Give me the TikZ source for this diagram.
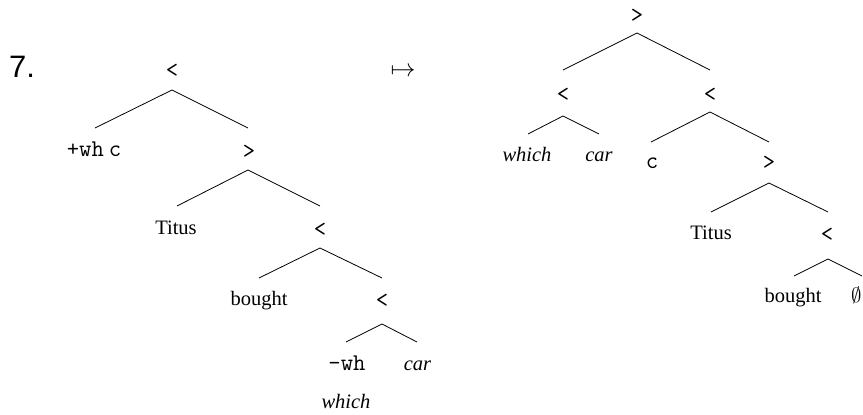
\documentclass[tikz,border=0pt]{standalone}
\usepackage{fontspec}
\setmainfont{Liberation Serif}
\newfontfamily\numfont{Liberation Sans}
\begin{document}
\begin{tikzpicture}[x=1pt,y=-1pt,
  lbl/.style={inner sep=0pt,anchor=base,font=\fontsize{20.5}{24}\selectfont},
  op/.style={inner sep=0pt,anchor=base,font=\fontsize{24}{28}\selectfont\ttfamily},
  br/.style={line width=0.8pt,black}]
\useasboundingbox (0,0) rectangle (863,415);
% example number and arrow
\node[inner sep=0pt,anchor=base west,font=\fontsize{31}{34}\selectfont\numfont] (num) at (9,77) {7.};
\node[inner sep=0pt,anchor=base,font=\fontsize{31}{34}\selectfont] (maps) at (403,76.5) {$\mapsto$};
% ---------------- left tree ----------------
\node[op] (l0) at (172,77) {<};
\node[op] (l1a) at (94,156.5) {+wh\hspace{5pt}c};
\node[op] (l1b) at (249,158) {>};
\node[lbl] (l2a) at (176,234) {Titus};
\node[op] (l2b) at (320,236) {<};
\node[lbl] (l3a) at (259,305) {bought};
\node[op] (l3b) at (382,307) {<};
\node[op] (l4a) at (347,370.5) {-wh};
\node[lbl] (l4b) at (417.5,370.5) {\itshape car};
\node[lbl] (l5) at (346,408) {\itshape which};
\coordinate (p0) at (172,90);  \coordinate (p0a) at (95,128);  \coordinate (p0b) at (248,128);
\coordinate (p1) at (248,170); \coordinate (p1a) at (177,206); \coordinate (p1b) at (320,206);
\coordinate (p2) at (320,248); \coordinate (p2a) at (259,278); \coordinate (p2b) at (382,278);
\coordinate (p3) at (382,324); \coordinate (p3a) at (346,342); \coordinate (p3b) at (417,342);
\draw[br] (p0a) -- (p0) -- (p0b);
\draw[br] (p1a) -- (p1) -- (p1b);
\draw[br] (p2a) -- (p2) -- (p2b);
\draw[br] (p3a) -- (p3) -- (p3b);
% ---------------- right tree ----------------
\node[op] (r0) at (637,22) {>};
\node[op] (r1a) at (563,101) {<};
\node[op] (r1b) at (710,101) {<};
\node[lbl] (r2a) at (527,161) {\itshape which};
\node[lbl] (r2b) at (599,161) {\itshape car};
\node[op] (r2c) at (652,168.5) {c};
\node[op] (r2d) at (769,169) {>};
\node[lbl] (r3a) at (711,239) {Titus};
\node[op] (r3b) at (827,241) {<};
\node[lbl] (r4a) at (793,302) {bought};
\node[inner sep=0pt,anchor=base west,font=\fontsize{20.5}{24}\selectfont] (r4b) at (851,302) {$\emptyset$};
\coordinate (q0) at (637,33);  \coordinate (q0a) at (563,70);  \coordinate (q0b) at (710,70);
\coordinate (q1) at (563,116); \coordinate (q1a) at (528,134); \coordinate (q1b) at (599,134);
\coordinate (q2) at (710,112); \coordinate (q2a) at (651,142); \coordinate (q2b) at (769,142);
\coordinate (q3) at (769,183); \coordinate (q3a) at (711,212); \coordinate (q3b) at (828,212);
\coordinate (q4) at (828,259); \coordinate (q4a) at (794,276); \coordinate (q4b) at (862,276);
\draw[br] (q0a) -- (q0) -- (q0b);
\draw[br] (q1a) -- (q1) -- (q1b);
\draw[br] (q2a) -- (q2) -- (q2b);
\draw[br] (q3a) -- (q3) -- (q3b);
\draw[br] (q4a) -- (q4) -- (q4b);
\end{tikzpicture}
\end{document}
